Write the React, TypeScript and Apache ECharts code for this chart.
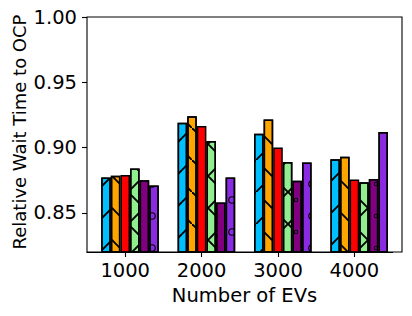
import React, { useEffect, useRef } from 'react';
import * as echarts from 'echarts';

const categories = ['1000', '2000', '3000', '4000'];
const yTickValues = [0.85, 0.9, 0.95, 1.0];

const seriesBlue = [0.877, 0.919, 0.9105, 0.891];
const seriesOrange = [0.8785, 0.924, 0.9215, 0.893];
const seriesRed = [0.879, 0.9165, 0.9, 0.8755];
const seriesGreen = [0.884, 0.905, 0.889, 0.8735];
const seriesPurple = [0.875, 0.858, 0.8745, 0.876];
const seriesViolet = [0.871, 0.877, 0.8885, 0.912];

const ring = (cx: number, cy: number, R: number, r: number) =>
  `M${cx - R} ${cy} A${R} ${R} 0 1 0 ${cx + R} ${cy} A${R} ${R} 0 1 0 ${cx - R} ${cy} Z ` +
  `M${cx - r} ${cy} A${r} ${r} 0 1 1 ${cx + r} ${cy} A${r} ${r} 0 1 1 ${cx - r} ${cy} Z `;
const corners = 'M0 0 L0.3 0 L0 0.3 Z M32 32 L31.7 32 L32 31.7 Z';

const t = 1.35;
const slashPath = `M0 ${32 - t} L${32 - t} 0 L32 0 L32 ${t} L${t} 32 L0 32 Z`;
const backPath = `M0 0 L${t} 0 L32 ${32 - t} L32 32 L${32 - t} 32 L0 ${t} Z`;

const mkDecal = (d: string) => ({
  symbol: 'path://' + d,
  symbolSize: 1,
  symbolKeepAspect: false,
  color: '#000',
  dashArrayX: [32, 0],
  dashArrayY: [32, 0],
  rotation: 0,
});

const hatches: any[] = [
  mkDecal(slashPath),
  mkDecal(backPath),
  null,
  mkDecal(slashPath + ' ' + backPath),
  mkDecal(ring(8, 8, 2.2, 1.2) + ring(24, 24, 2.2, 1.2) + corners),
  mkDecal(ring(8, 8, 3.8, 2.7) + ring(24, 24, 3.8, 2.7) + corners),
];

const seriesList = [seriesBlue, seriesOrange, seriesRed, seriesGreen, seriesPurple, seriesViolet];
const colors = ['#00BFFF', '#FFA500', '#FF0000', '#90EE90', '#800080', '#8A2BE2'];

export default function App() {
  const ref = useRef<HTMLDivElement>(null);
  useEffect(() => {
    if (!ref.current) return;
    const chart = echarts.init(ref.current, null, { renderer: 'svg' });
    const BW = 9.6;
    const series: any[] = [
      {
        type: 'bar',
        name: 'spacer',
        data: categories.map(() => '-'),
        barWidth: BW,
        barGap: '0%',
      },
    ];
    seriesList.forEach((vals, i) => {
      const itemStyle: any = { color: colors[i], borderColor: '#000', borderWidth: 1.5 };
      if (hatches[i]) itemStyle.decal = hatches[i];
      series.push({
        type: 'bar',
        data: vals,
        barWidth: BW,
        barGap: '0%',
        itemStyle,
        emphasis: { disabled: true },
      });
    });
    chart.setOption({
      animation: false,
      backgroundColor: '#fff',
      grid: { left: 87, top: 17, width: 305.6, height: 235, containLabel: false },
      xAxis: {
        type: 'category',
        data: categories,
        axisLine: { show: true, lineStyle: { color: '#000', width: 1.1 } },
        axisTick: { show: true, alignWithLabel: true, length: 5, lineStyle: { color: '#000', width: 1.1 } },
        axisLabel: { fontSize: 19.5, color: '#000', margin: 8, fontFamily: 'DejaVu Sans' },
        splitLine: { show: false },
      },
      yAxis: {
        type: 'value',
        min: 0.82,
        max: 1.0,
        axisLine: { show: false },
        axisTick: { show: true, length: 5, customValues: yTickValues, lineStyle: { color: '#000', width: 1.1 } },
        axisLabel: {
          customValues: yTickValues,
          fontSize: 19.5,
          color: '#000',
          margin: 10,
          fontFamily: 'DejaVu Sans',
          formatter: (v: number) => v.toFixed(2),
        },
        splitLine: { show: false },
      },
      graphic: [
        {
          type: 'rect',
          shape: { x: 87, y: 17, width: 315, height: 235 },
          style: { fill: 'none', stroke: '#000', lineWidth: 1.1 },
          z: 10,
        },
        {
          type: 'text',
          x: 19.5,
          y: 132,
          rotation: Math.PI / 2,
          style: {
            text: 'Relative Wait Time to OCP',
            font: '18px "DejaVu Sans"',
            fill: '#000',
            align: 'center',
            verticalAlign: 'middle',
          },
        },
        {
          type: 'text',
          x: 244.5,
          y: 295,
          style: {
            text: 'Number of EVs',
            font: '19.5px "DejaVu Sans"',
            fill: '#000',
            align: 'center',
            verticalAlign: 'middle',
          },
        },
      ],
      series,
    });
    return () => chart.dispose();
  }, []);
  return <div ref={ref} style={{ position: 'absolute', left: 0, top: 0, width: 412, height: 316 }} />;
}
